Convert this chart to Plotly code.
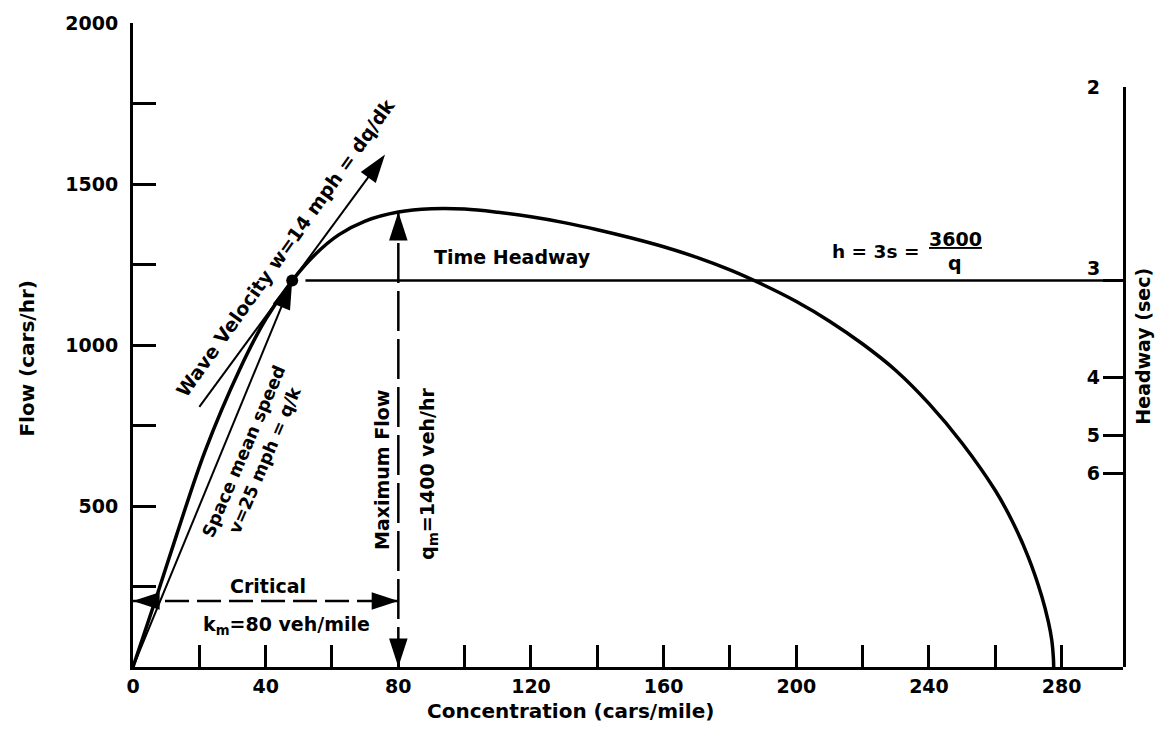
import plotly.graph_objects as go

# Flow-concentration curve (k in cars/mile, q in cars/hr)
k_curve = [0, 7, 13.2, 21.7, 32.2, 40, 48, 55, 62, 70, 80, 90, 100, 110, 120, 130, 140,
           150, 160, 170, 180, 190, 200, 210, 220, 230, 240, 250, 260, 265, 270, 274, 276,
           277, 277.5, 277.6]
q_curve = [0, 215, 412, 670, 925, 1080, 1200, 1282, 1342, 1385, 1413, 1423, 1422, 1412,
           1398, 1380, 1358, 1333, 1305, 1272, 1233, 1187, 1135, 1074, 1003, 921, 818, 695,
           548, 455, 340, 220, 140, 85, 30, 0]

# Operating point and the two speed rays through it
point_k = [48]
point_q = [1200]
speed_k = [0, 48]          # space mean speed v = 25 mph
speed_q = [0, 1200]
wave_k = [20, 76]          # wave velocity w = 14 mph
wave_q = [808, 1592]

# Critical concentration and maximum flow markers
critical_k = [0, 80]
critical_q = [205, 205]
maxflow_k = [80, 80]
maxflow_q = [0, 1413]

# Time headway line, h = 3 s
headway_line_k = [52, 298.5]
headway_line_q = [1200, 1200]

# Axis ticks
x_ticks = [0, 20, 40, 60, 80, 100, 120, 140, 160, 180, 200, 220, 240, 260, 280]
x_labels = ["0", "", "40", "", "80", "", "120", "", "160", "", "200", "", "240", "", "280"]
y_ticks = [250, 500, 750, 1000, 1250, 1500, 1750, 2000]
y_labels = ["", "500", "", "1000", "", "1500", "", "2000"]
headway_q = [1800, 1200, 900, 720, 600]
headway_labels = ["2", "", "4", "5", "6"]

FONT = "DejaVu Sans"
INK = "black"


def tfont(size):
    return dict(family=FONT, size=size, color=INK, weight="bold")


fig = go.Figure()

# main curve
fig.add_trace(go.Scatter(
    x=k_curve, y=q_curve, mode="lines",
    line=dict(color=INK, width=3.5, shape="spline", smoothing=1.0),
    hoverinfo="skip"))

# space mean speed ray with arrowhead at the operating point
fig.add_trace(go.Scatter(
    x=speed_k, y=speed_q, mode="lines+markers",
    line=dict(color=INK, width=2),
    marker=dict(symbol="arrow", size=[0, 30], color=INK, angleref="previous", angle=0,
                opacity=1, line=dict(width=0)),
    hoverinfo="skip"))

# wave velocity tangent with arrowhead
fig.add_trace(go.Scatter(
    x=wave_k, y=wave_q, mode="lines+markers",
    line=dict(color=INK, width=2),
    marker=dict(symbol="arrow", size=[0, 30], color=INK, angleref="previous", angle=0,
                opacity=1, line=dict(width=0)),
    hoverinfo="skip"))

# critical concentration double arrow (dashed)
fig.add_trace(go.Scatter(
    x=critical_k, y=critical_q, mode="lines+markers",
    line=dict(color=INK, width=2.5, dash="24px,8px"),
    marker=dict(symbol="arrow", size=28, color=INK, angle=[270, 90], opacity=1,
                line=dict(width=0)),
    hoverinfo="skip"))

# maximum flow double arrow (dashed)
fig.add_trace(go.Scatter(
    x=maxflow_k, y=maxflow_q, mode="lines+markers",
    line=dict(color=INK, width=2.5, dash="40px,8px"),
    marker=dict(symbol="arrow", size=30, color=INK, angle=[180, 0], opacity=1,
                line=dict(width=0)),
    hoverinfo="skip"))

# operating point
fig.add_trace(go.Scatter(
    x=point_k, y=point_q, mode="markers",
    marker=dict(symbol="circle", size=12, color=INK),
    hoverinfo="skip"))

# time headway line, drawn against the headway axis
fig.add_trace(go.Scatter(
    x=headway_line_k, y=headway_line_q, mode="lines", yaxis="y2",
    line=dict(color=INK, width=2.5),
    hoverinfo="skip"))

annotations = [
    dict(text="Wave Velocity w=14 mph = dq/dk", x=45.8, y=1302, textangle=-54.5,
         font=tfont(19)),
    dict(text="Space mean speed<br>v=25 mph = q/k", x=36.7, y=656, textangle=-66.8,
         font=tfont(17.5)),
    dict(text="Critical", x=40.7, y=252, font=tfont(19)),
    dict(text="k<sub>m</sub>=80 veh/mile", x=46.4, y=128, font=tfont(19)),
    dict(text="Maximum Flow", x=75.3, y=611, textangle=-90, font=tfont(19)),
    dict(text="q<sub>m</sub>=1400 veh/hr", x=89.2, y=600, textangle=-90, font=tfont(19)),
    dict(text="Time Headway", x=114.3, y=1272, font=tfont(19)),
    dict(text="h = 3s =", x=224, y=1290, font=tfont(18.5)),
    dict(text="<u>3600</u>", x=247.9, y=1328, font=tfont(19)),
    dict(text="q", x=247.9, y=1254, font=tfont(19)),
    dict(text="3", xref="paper", x=0.9697, y=1200, yshift=13, font=tfont(19)),
    dict(text="Flow (cars/hr)", xref="paper", yref="paper", x=-0.108, y=0.479,
         textangle=-90, font=tfont(20)),
    dict(text="Headway (sec)", xref="paper", yref="paper", x=1.0202, y=0.499,
         textangle=-90, font=tfont(19)),
    dict(text="Concentration (cars/mile)", xref="paper", yref="paper", x=0.4424, y=-0.069,
         font=tfont(20)),
]
for a in annotations:
    a.setdefault("xref", "x")
    a.setdefault("yref", "y")
    a.update(showarrow=False, xanchor="center", yanchor="middle")

fig.update_layout(
    width=1163, height=733,
    margin=dict(l=133, r=40, t=16, b=66),
    paper_bgcolor="white", plot_bgcolor="rgba(0,0,0,0)",
    showlegend=False,
    xaxis=dict(range=[0, 298.5], showline=True, linewidth=3, linecolor=INK,
               ticks="inside", ticklen=22, tickwidth=2.5, tickcolor=INK,
               tickvals=x_ticks, ticktext=x_labels, tickfont=tfont(19),
               showgrid=False, zeroline=False, anchor="y"),
    yaxis=dict(range=[0, 2000], domain=[0, 1], showline=True, linewidth=3, linecolor=INK,
               ticks="inside", ticklen=23, tickwidth=2.5, tickcolor=INK,
               tickvals=y_ticks, ticktext=y_labels, tickfont=tfont(19),
               ticklabelstandoff=8,
               showgrid=False, zeroline=False, anchor="x"),
    yaxis2=dict(range=[0, 1800], domain=[0, 0.9], side="right", anchor="x",
                showline=True, linewidth=2.5, linecolor=INK,
                ticks="inside", ticklen=20, tickwidth=2.5, tickcolor=INK,
                tickvals=headway_q, ticktext=headway_labels, tickfont=tfont(19),
                ticklabelposition="inside", ticklabeloverflow="allow",
                ticklabelstandoff=4,
                showgrid=False, zeroline=False),
    annotations=annotations,
)

fig.write_html("out.html")
